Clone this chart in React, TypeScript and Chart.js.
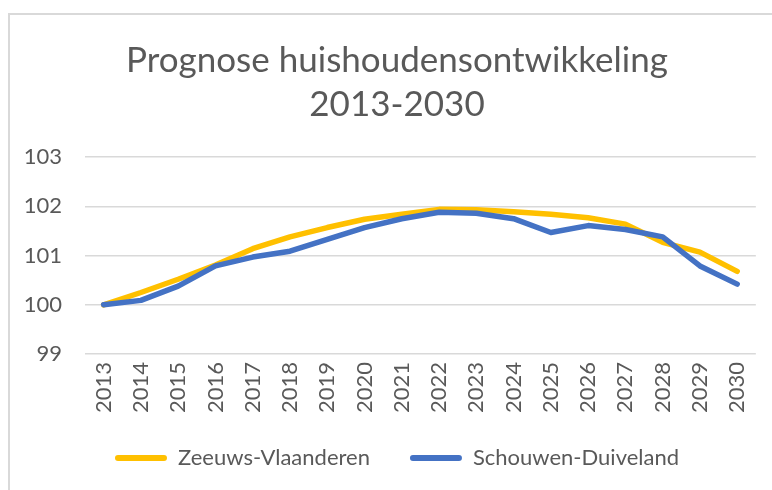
import React, { useEffect, useRef } from "react";
import { Chart, registerables } from "chart.js";

Chart.register(...registerables);

const years = ["2013","2014","2015","2016","2017","2018","2019","2020","2021","2022","2023","2024","2025","2026","2027","2028","2029","2030"];
const zeeuwsVlaanderen = [100.0, 100.25, 100.52, 100.81, 101.14, 101.38, 101.57, 101.74, 101.84, 101.94, 101.93, 101.89, 101.84, 101.77, 101.64, 101.27, 101.07, 100.68];
const schouwenDuiveland = [100.0, 100.09, 100.38, 100.79, 100.97, 101.09, 101.33, 101.57, 101.75, 101.88, 101.86, 101.75, 101.47, 101.61, 101.53, 101.38, 100.79, 100.42];
const yTicks = [99, 100, 101, 102, 103];
const titleLines = ["Prognose huishoudensontwikkeling", "2013-2030"];
const seriesNames = ["Zeeuws-Vlaanderen", "Schouwen-Duiveland"];

const FONT = "Lato, 'Open Sans', sans-serif";
const GREY = "#595959";

const unclipLabels = {
  id: "unclipLabels",
  afterLayout(chart: any) {
    const y = chart.scales.y;
    if (y) y.left = 0;
    const x = chart.scales.x;
    if (x) x.bottom = chart.height;
  },
};

export default function App() {
  const ref = useRef<HTMLCanvasElement | null>(null);
  useEffect(() => {
    if (!ref.current) return;
    const chart = new Chart(ref.current, {
      type: "line",
      data: {
        labels: years,
        datasets: [
          {
            label: seriesNames[0],
            data: zeeuwsVlaanderen,
            borderColor: "#FFC000",
            backgroundColor: "#FFC000",
            borderWidth: 5.5,
            pointRadius: 0,
            tension: 0,
            borderCapStyle: "round",
            borderJoinStyle: "round",
            order: 1,
          },
          {
            label: seriesNames[1],
            data: schouwenDuiveland,
            borderColor: "#4472C4",
            backgroundColor: "#4472C4",
            borderWidth: 5.5,
            pointRadius: 0,
            tension: 0,
            borderCapStyle: "round",
            borderJoinStyle: "round",
            order: 0,
          },
        ],
      },
      plugins: [unclipLabels],
      options: {
        animation: false,
        responsive: false,
        maintainAspectRatio: false,
        layout: { padding: { left: 36, right: 14, top: 0, bottom: 11 } },
        plugins: {
          tooltip: { enabled: false },
          title: {
            display: true,
            text: titleLines,
            color: GREY,
            font: { family: FONT, size: 35, weight: "normal", lineHeight: 1.26 },
            padding: { top: 39, bottom: 30 },
          },
          legend: {
            position: "bottom",
            labels: {
              color: GREY,
              font: { family: FONT, size: 22 },
              boxWidth: 52,
              boxHeight: 6,
              padding: 40,
              useBorderRadius: true,
              borderRadius: 3,
              generateLabels: (c: any) =>
                c.data.datasets.map((ds: any, i: number) => ({
                  text: ds.label,
                  fillStyle: ds.borderColor,
                  strokeStyle: ds.borderColor,
                  lineWidth: 0,
                  hidden: false,
                  datasetIndex: i,
                  fontColor: GREY,
                  borderRadius: 3,
                })),
            },
          },
        },
        scales: {
          x: {
            type: "category",
            offset: true,
            grid: { display: false, drawTicks: false },
            border: { display: false },
            afterFit: (s: any) => {
              s.height = 53;
            },
            ticks: {
              color: GREY,
              font: { family: FONT, size: 22 },
              minRotation: 90,
              maxRotation: 90,
              autoSkip: false,
              padding: 8,
            },
          },
          y: {
            min: 99,
            max: 103,
            afterBuildTicks: (s: any) => {
              s.ticks = yTicks.map((v) => ({ value: v }));
            },
            afterFit: (s: any) => {
              s.width = 49;
            },
            grid: { color: "#d9d9d9", lineWidth: 1.5, drawTicks: false },
            border: { display: false },
            ticks: {
              color: GREY,
              font: { family: FONT, size: 22 },
              padding: 23,
            },
          },
        },
      },
    });
    return () => chart.destroy();
  }, []);
  return (
    <div style={{ position: "fixed", left: 0, top: 0, width: 772, height: 490, background: "#fff", overflow: "hidden" }}>
      <canvas ref={ref} width={772} height={490} style={{ position: "absolute", left: 0, top: 0 }} />
      <div
        style={{
          position: "absolute",
          left: 8,
          top: 13,
          width: 900,
          height: 600,
          border: "2px solid #d9d9d9",
          pointerEvents: "none",
        }}
      />
    </div>
  );
}
